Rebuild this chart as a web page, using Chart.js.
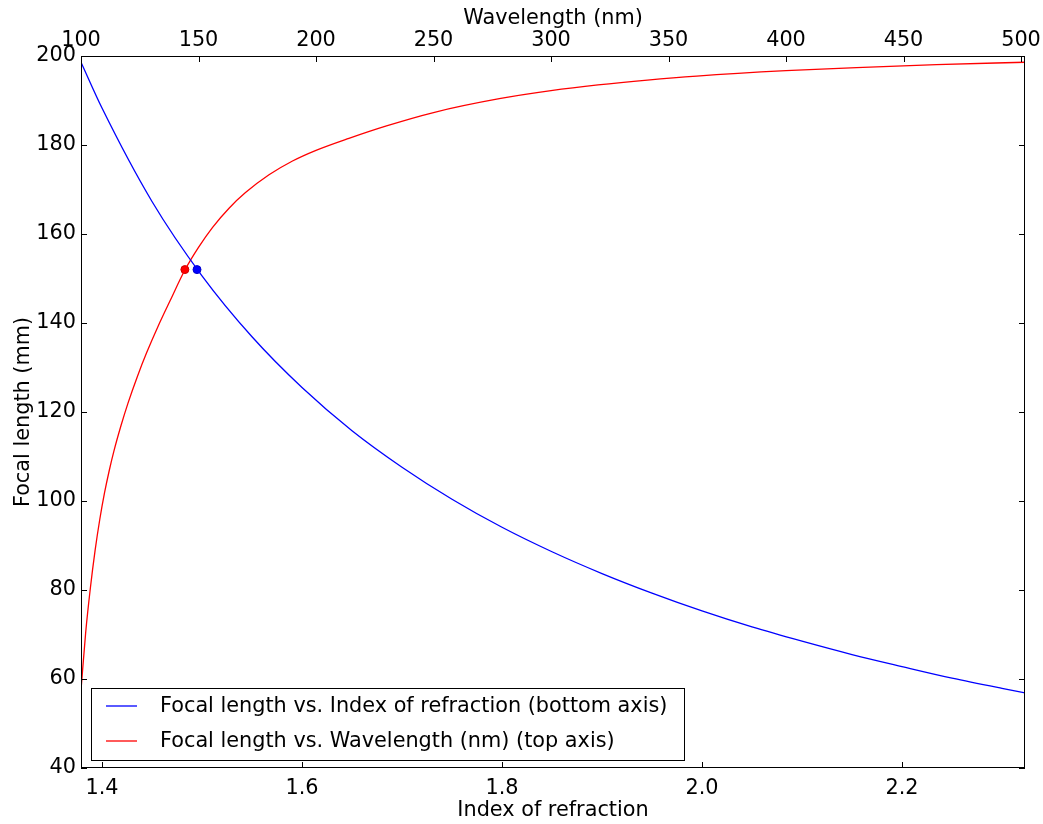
<!DOCTYPE html>
<html>
<head>
<meta charset="utf-8">
<title>Focal length vs index of refraction and wavelength</title>
<script src="https://cdn.jsdelivr.net/npm/chart.js@4.4.1/dist/chart.umd.min.js"></script>
<style>
  html, body { margin: 0; padding: 0; background: #fff; }
</style>
</head>
<body>
<canvas id="chart" width="1043" height="824"></canvas>
<script>
// blue curve: index of refraction (bottom axis) -> focal length (mm)
const refractionIndex = [1.379, 1.40, 1.45, 1.50, 1.55, 1.60, 1.65, 1.70, 1.75, 1.80, 1.85,
                         1.90, 1.95, 2.00, 2.05, 2.10, 2.15, 2.20, 2.25, 2.30, 2.323];
const focalVsIndex = [198.6, 188.3, 167.3, 150.6, 136.9, 125.5, 115.8, 107.6, 100.4, 94.1, 88.6,
                      83.7, 79.3, 75.3, 71.7, 68.5, 65.5, 62.8, 60.2, 57.9, 56.9];

// red curve: wavelength in nm (top axis) -> focal length (mm)
const wavelengths = [100, 102, 104, 106, 108, 110, 112, 114, 117, 120, 124, 128, 133, 138, 144.2,
                     150, 156, 163, 170, 180, 190, 200, 214, 230, 250, 278, 300, 320, 341, 362,
                     400, 430, 464, 501.7];
const focalVsWavelength = [57.5, 70.5, 80.5, 88.9, 95.9, 101.8, 106.8, 111.2, 116.9, 122.0, 128.0, 133.4, 139.5, 145.1, 151.9,
                           157.0, 161.5, 165.8, 169.3, 173.3, 176.4, 178.8, 181.5, 184.3, 187.3, 190.4, 192.2, 193.5, 194.6, 195.5,
                           196.7, 197.4, 198.05, 198.6];

// the two marked points
const markedIndex = 1.495;
const markedWavelength = 144.2;
const markedFocal = 152;

const indexTicks = [1.4, 1.6, 1.8, 2.0, 2.2];
const wavelengthTicks = [100, 150, 200, 250, 300, 350, 400, 450, 500];
const focalTicks = [40, 60, 80, 100, 120, 140, 160, 180, 200];

const FONT = { family: 'DejaVu Sans', size: 20.8 };

function toPoints(xs, ys) {
	return xs.map((x, i) => ({ x: x, y: ys[i] }));
}

// frame, inward tick marks and the legend box, matplotlib classic style
const framePlugin = {
	id: 'frame',
	afterDraw(chart) {
		let ctx = chart.ctx;
		let a = chart.chartArea;
		let s = chart.scales;
		ctx.save();
		ctx.strokeStyle = '#000';
		ctx.lineWidth = 1;
		ctx.strokeRect(a.left + 0.5, a.top + 0.5, a.right - a.left - 1, a.bottom - a.top - 1);

		let len = 6;
		ctx.beginPath();
		indexTicks.forEach(v => {
			let x = Math.round(s.x.getPixelForValue(v)) + 0.5;
			ctx.moveTo(x, a.bottom);
			ctx.lineTo(x, a.bottom - len);
		});
		wavelengthTicks.forEach(v => {
			let x = Math.round(s.x2.getPixelForValue(v)) + 0.5;
			ctx.moveTo(x, a.top);
			ctx.lineTo(x, a.top + len);
		});
		focalTicks.forEach(v => {
			let y = Math.round(s.y.getPixelForValue(v)) + 0.5;
			ctx.moveTo(a.left, y);
			ctx.lineTo(a.left + len, y);
			ctx.moveTo(a.right, y);
			ctx.lineTo(a.right - len, y);
		});
		ctx.stroke();

		// legend in the lower left corner
		let items = chart.data.datasets.filter(d => d.label);
		ctx.font = FONT.size + 'px "' + FONT.family + '"';
		let textW = Math.max(...items.map(d => ctx.measureText(d.label).width));
		let boxL = a.left + 10;
		let boxW = 69 + textW + 17;
		let rowH = 35;
		let boxH = 72;
		let boxT = a.bottom - 8 - boxH;
		ctx.fillStyle = '#fff';
		ctx.fillRect(boxL, boxT, boxW, boxH);
		ctx.strokeRect(Math.round(boxL) + 0.5, Math.round(boxT) + 0.5, Math.round(boxW), boxH);
		ctx.textBaseline = 'middle';
		items.forEach((d, i) => {
			let cy = boxT + 18 + i * rowH;
			ctx.strokeStyle = d.borderColor;
			ctx.lineWidth = 1.3;
			ctx.beginPath();
			ctx.moveTo(boxL + 15, cy);
			ctx.lineTo(boxL + 46, cy);
			ctx.stroke();
			ctx.fillStyle = '#000';
			ctx.fillText(d.label, boxL + 69, cy + 1);
		});
		ctx.restore();
	}
};

let ctx = document.getElementById('chart').getContext('2d');

var FocalChart = new Chart(ctx, {
	type: 'scatter',
	data: {
		datasets: [{
			label: 'Focal length vs. Index of refraction (bottom axis)',
			data: toPoints(refractionIndex, focalVsIndex),
			xAxisID: 'x',
			showLine: true,
			cubicInterpolationMode: 'monotone',
			borderColor: '#0000ff',
			borderWidth: 1.3,
			pointRadius: 0
		}, {
			label: 'Focal length vs. Wavelength (nm) (top axis)',
			data: toPoints(wavelengths, focalVsWavelength),
			xAxisID: 'x2',
			showLine: true,
			cubicInterpolationMode: 'monotone',
			borderColor: '#ff0000',
			borderWidth: 1.3,
			pointRadius: 0
		}, {
			data: [{ x: markedIndex, y: markedFocal }],
			xAxisID: 'x',
			pointRadius: 4,
			backgroundColor: '#0000ff',
			borderColor: '#0000cc',
			borderWidth: 1
		}, {
			data: [{ x: markedWavelength, y: markedFocal }],
			xAxisID: 'x2',
			pointRadius: 4,
			backgroundColor: '#ff0000',
			borderColor: '#cc0000',
			borderWidth: 1
		}]
	},
	options: {
		responsive: false,
		devicePixelRatio: 1,
		animation: false,
		layout: { padding: { left: 0, right: 18, top: 0, bottom: 0 } },
		plugins: {
			legend: { display: false },
			tooltip: { enabled: false }
		},
		scales: {
			x: {
				type: 'linear',
				position: 'bottom',
				min: 1.379,
				max: 2.323,
				afterBuildTicks: s => { s.ticks = indexTicks.map(v => ({ value: v })); },
				afterFit: s => { s.height = 56; s.paddingLeft = 0; s.paddingRight = 0; },
				grid: { display: false, drawTicks: false },
				border: { display: false },
				ticks: {
					autoSkip: false,
					maxRotation: 0,
					padding: 8,
					color: '#000',
					font: FONT,
					callback: v => v.toFixed(1)
				},
				title: { display: true, text: 'Index of refraction', color: '#000', font: FONT, padding: { top: 0, bottom: 1 } }
			},
			x2: {
				type: 'linear',
				position: 'top',
				min: 100,
				max: 501.7,
				afterBuildTicks: s => { s.ticks = wavelengthTicks.map(v => ({ value: v })); },
				afterFit: s => { s.height = 56; s.paddingLeft = 0; s.paddingRight = 0; },
				grid: { display: false, drawTicks: false },
				border: { display: false },
				ticks: {
					autoSkip: false,
					maxRotation: 0,
					padding: 3,
					color: '#000',
					font: FONT,
					callback: v => String(v)
				},
				title: { display: true, text: 'Wavelength (nm)', color: '#000', font: FONT, padding: { top: 6, bottom: 0 } }
			},
			y: {
				type: 'linear',
				position: 'left',
				min: 40,
				max: 200,
				afterBuildTicks: s => { s.ticks = focalTicks.map(v => ({ value: v })); },
				afterFit: s => { s.width = 81; s.paddingTop = 0; s.paddingBottom = 0; },
				grid: { display: false, drawTicks: false },
				border: { display: false },
				ticks: {
					autoSkip: false,
					padding: 5,
					color: '#000',
					font: FONT,
					callback: v => String(v)
				},
				title: { display: true, text: 'Focal length (mm)', color: '#000', font: FONT, padding: { top: 11, bottom: 0 } }
			}
		}
	},
	plugins: [framePlugin]
});
</script>
</body>
</html>
